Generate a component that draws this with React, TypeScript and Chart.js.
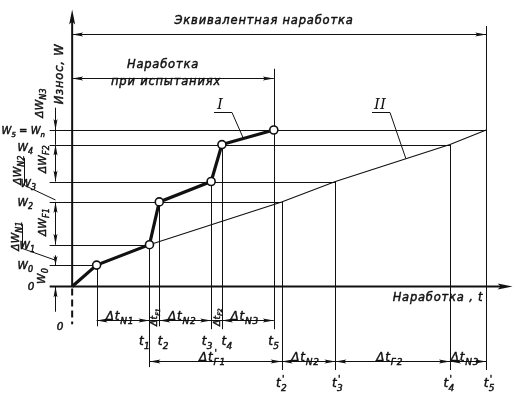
import React, { useEffect, useRef } from "react";
import { Chart, registerables } from "chart.js";

Chart.register(...registerables);

// ---- Data (1 unit = 10 px) ----
// Curve I: test run. Origin, W0 point, then t1..t5
const testTimes = [0, 2.5, 7.9, 8.9, 14.2, 15.3, 20.6];
const testWear = [0, 2.2, 4.3, 8.7, 10.8, 14.6, 16.1];
// Curve II: equivalent normal operation. t1, t'2..t'5
const equivTimes = [7.9, 21.4, 26.9, 38.6, 42.3];
const equivWear = [4.3, 8.7, 10.8, 14.6, 16.1];

const wearLabels = ["W_{0}", "W_{1}", "W_{2}", "W_{3}", "W_{4}", "W_{5} = W_{n}"];
const testTimeLabels = ["t_{1}", "t_{2}", "t_{3}", "t_{4}", "t_{5}"];
const equivTimeLabels = ["t^{'}_{2}", "t^{'}_{3}", "t^{'}_{4}", "t^{'}_{5}"];
const testIntervalLabels = ["Δt_{N1}", "Δt_{F1}", "Δt_{N2}", "Δt_{F2}", "Δt_{N3}"];
const equivIntervalLabels = ["Δt^{'}_{F1}", "Δt_{N2}", "Δt_{F2}", "Δt_{N3}"];
const wearIntervalLabels = ["W_{0}", "ΔW_{N1}", "ΔW_{F1}", "ΔW_{N2}", "ΔW_{F2}", "ΔW_{N3}"];
const axisTitleX = "Наработка , t";
const axisTitleY = "Износ, W";
const totalLabel = "Эквивалентная наработка";
const testLabel = ["Наработка", "при испытаниях"];
const curveLabels = ["I", "II"];

const INK = "#111";
const FONT = "'DejaVu Sans', sans-serif";

type Part = { t: string; k: number };
function parseRich(s: string): Part[] {
  const parts: Part[] = [];
  const re = /([_^])\{([^}]*)\}/g;
  let last = 0;
  let m: RegExpExecArray | null;
  while ((m = re.exec(s))) {
    if (m.index > last) parts.push({ t: s.slice(last, m.index), k: 0 });
    parts.push({ t: m[2], k: m[1] === "_" ? 1 : 2 });
    last = re.lastIndex;
  }
  if (last < s.length) parts.push({ t: s.slice(last), k: 0 });
  return parts;
}

function drawRich(
  ctx: CanvasRenderingContext2D,
  s: string,
  x: number,
  y: number,
  size: number,
  align: "left" | "center" | "right" = "left",
  rot = 0,
  spacing = 0.6
) {
  const parts = parseRich(s);
  const sub = Math.round(size * 0.72);
  const fontOf = (p: Part) => `italic ${p.k ? sub : size}px ${FONT}`;
  ctx.save();
  (ctx as any).letterSpacing = spacing + "px";
  const adv: number[] = [];
  let w = 0;
  parts.forEach((p, i) => {
    ctx.font = fontOf(p);
    const pw = ctx.measureText(p.t).width;
    const a = p.k === 2 && parts[i + 1] && parts[i + 1].k === 1 ? 0 : pw;
    adv.push(a);
    w += a;
  });
  ctx.translate(x, y);
  ctx.rotate(rot);
  ctx.textBaseline = "alphabetic";
  ctx.textAlign = "left";
  ctx.strokeStyle = INK;
  ctx.fillStyle = INK;
  ctx.lineWidth = 0.45;
  ctx.lineJoin = "round";
  let cx = align === "center" ? -w / 2 : align === "right" ? -w : 0;
  parts.forEach((p, i) => {
    ctx.font = fontOf(p);
    const dy = p.k === 1 ? size * 0.3 : p.k === 2 ? -size * 0.42 : 0;
    const dx = p.k === 2 ? 1 : 0;
    ctx.fillText(p.t, cx + dx, dy);
    ctx.strokeText(p.t, cx + dx, dy);
    cx += adv[i];
  });
  ctx.restore();
}

function interp(ts: number[], ws: number[], t: number) {
  for (let i = 0; i < ts.length - 1; i++) {
    if (t >= ts[i] && t <= ts[i + 1]) {
      return ws[i] + ((t - ts[i]) / (ts[i + 1] - ts[i])) * (ws[i + 1] - ws[i]);
    }
  }
  return ws[ws.length - 1];
}

const diagramPlugin = {
  id: "diagram",
  beforeDatasetsDraw(chart: any) {
    const ctx: CanvasRenderingContext2D = chart.ctx;
    const X = (t: number) => chart.scales.x.getPixelForValue(t);
    const Y = (w: number) => chart.scales.y.getPixelForValue(w);
    const line = (x1: number, y1: number, x2: number, y2: number, lw = 1, dash: number[] = []) => {
      ctx.save();
      ctx.strokeStyle = INK;
      ctx.lineWidth = lw;
      ctx.setLineDash(dash);
      ctx.beginPath();
      ctx.moveTo(x1, y1);
      ctx.lineTo(x2, y2);
      ctx.stroke();
      ctx.restore();
    };
    const arrow = (x: number, y: number, dx: number, dy: number, len = 10, half = 2) => {
      const nx = -dy, ny = dx;
      ctx.save();
      ctx.fillStyle = INK;
      ctx.beginPath();
      ctx.moveTo(x, y);
      ctx.lineTo(x - dx * len + nx * half, y - dy * len + ny * half);
      ctx.lineTo(x - dx * len * 0.8, y - dy * len * 0.8);
      ctx.lineTo(x - dx * len - nx * half, y - dy * len - ny * half);
      ctx.closePath();
      ctx.fill();
      ctx.restore();
    };
    const hx = (v: number) => Math.round(v) + 0.5;

    // wear level lines
    const leftT = -2.3;
    const ends = [testTimes[1], ...equivTimes];
    testWear.slice(1).forEach((w, i) => {
      line(X(leftT), hx(Y(w)), X(ends[i]), hx(Y(w)), 1);
    });

    // vertical extension lines (test times)
    const testBottoms = [-4.1, -8.3, -4.1, -4.4, -4.4, -4.4];
    testTimes.slice(1).forEach((t, i) => {
      const top = i === 5 ? 22.4 : testWear[i + 1];
      line(hx(X(t)), Y(top), hx(X(t)), Y(testBottoms[i]), 1);
    });
    // vertical extension lines (equivalent times)
    equivTimes.slice(1).forEach((t, i) => {
      const top = i === 3 ? 26.8 : equivWear[i + 1];
      line(hx(X(t)), Y(top), hx(X(t)), Y(-8.6), 1);
    });

    // axes
    line(X(leftT), Y(0), X(44.2), Y(0), 2);
    arrow(X(45.0), Y(0), 1, 0, 15, 3);
    line(X(0), Y(0), X(0), Y(27.6), 2);
    arrow(X(0), Y(28.5), 0, -1, 15, 3);
    line(X(0), Y(0) + 2, X(0), Y(-3.9), 2, [7, 4]);

    // top dimension lines
    const dimH = (w: number, a: number, b: number) => {
      line(X(a), hx(Y(w)), X(b), hx(Y(w)), 1);
      arrow(X(a), hx(Y(w)), -1, 0, 11, 2);
      arrow(X(b), hx(Y(w)), 1, 0, 11, 2);
    };
    dimH(26.0, 0, equivTimes[4]);
    dimH(21.5, 0, testTimes[6]);

    // row 1: test intervals
    const row1 = -3.5;
    const tb = testTimes.slice(1);
    line(X(tb[0]), hx(Y(row1)), X(tb[5]), hx(Y(row1)), 1);
    for (let i = 0; i < 5; i++) {
      const a = X(tb[i]), b = X(tb[i + 1]);
      if (b - a > 25) {
        arrow(a, hx(Y(row1)), -1, 0, 11, 2);
        arrow(b, hx(Y(row1)), 1, 0, 11, 2);
      }
    }
    // row 2: equivalent intervals
    const row2 = -7.7;
    line(X(equivTimes[0]), hx(Y(row2)), X(equivTimes[4]), hx(Y(row2)), 1);
    for (let i = 0; i < 4; i++) {
      arrow(X(equivTimes[i]), hx(Y(row2)), -1, 0, 11, 2);
      arrow(X(equivTimes[i + 1]), hx(Y(row2)), 1, 0, 11, 2);
    }

    // left vertical dimension line
    const dimX = hx(X(-1.8));
    line(dimX, Y(-2.6), dimX, Y(0), 1);
    arrow(dimX, Y(0), 0, -1, 11, 2);
    line(dimX, Y(testWear[1] + 1.0), dimX, Y(testWear[1]), 1);
    arrow(dimX, Y(testWear[1]), 0, 1, 9, 2);
    line(dimX, Y(testWear[2]), dimX, Y(testWear[3]), 1);
    arrow(dimX, Y(testWear[2]), 0, 1, 11, 2);
    arrow(dimX, Y(testWear[3]), 0, -1, 11, 2);
    line(dimX, Y(testWear[4]), dimX, Y(testWear[5]), 1);
    arrow(dimX, Y(testWear[4]), 0, 1, 11, 2);
    arrow(dimX, Y(testWear[5]), 0, -1, 11, 2);
    line(dimX, Y(testWear[6] + 2.3), dimX, Y(testWear[5]), 1);
    arrow(dimX, Y(testWear[6]), 0, 1, 11, 2);

    // leaders for small wear intervals
    line(24.5, Y(13.2), 24.5, Y(10.4), 1);
    line(24.5, Y(10.4), dimX, Y(8.9), 1);
    line(22.5, Y(6.4), 22.5, Y(3.9), 1);
    line(22.5, Y(3.9), dimX, Y(2.7), 1);

    // curve label leaders
    const lI = 17.5;
    const wI = interp(testTimes, testWear, lI);
    line(214, 112.5, 232, 112.5, 1);
    line(232, 112.5, X(lI), Y(wI), 1);
    const lII = 34.1;
    const wII = interp(equivTimes, equivWear, lII);
    line(372, 112.5, 390, 112.5, 1);
    line(390, 112.5, X(lII), Y(wII), 1);
  },
  afterDatasetsDraw(chart: any) {
    const ctx: CanvasRenderingContext2D = chart.ctx;
    const X = (t: number) => chart.scales.x.getPixelForValue(t);
    const Y = (w: number) => chart.scales.y.getPixelForValue(w);
    ctx.save();
    ctx.fillStyle = INK;

    // titles
    drawRich(ctx, totalLabel, 264, 24, 11.5, "center", 0, 0.8);
    drawRich(ctx, testLabel[0], 163, 68, 11.5, "center", 0, 0.8);
    drawRich(ctx, testLabel[1], 166, 85, 11.5, "center", 0, 0.8);
    drawRich(ctx, axisTitleX, 438, 301, 11.5, "center", 0, 0.8);
    drawRich(ctx, axisTitleY, 63, 74, 11.5, "center", -Math.PI / 2, 0.8);

    // wear level labels
    const wearRight = [33, 35, 33, 36, 33, 45];
    const wearDy = [4, 4, 4, 5, 6, 4];
    const wearSize = [10.5, 10.5, 10.5, 10.5, 10.5, 10];
    testWear.slice(1).forEach((w, i) => {
      drawRich(ctx, wearLabels[i], wearRight[i], Y(w) + wearDy[i], wearSize[i], "right", 0, 0);
    });
    drawRich(ctx, "0", 31, Y(0) + 4, 10.5, "center", 0, 0);
    drawRich(ctx, "0", 60, 330, 10.5, "center", 0, 0);

    // wear interval labels (rotated)
    const wearLabelPos: [number, number][] = [
      [45, 276],
      [19, 236],
      [46, 222],
      [21, 170],
      [46, 159],
      [43, 103],
    ];
    wearIntervalLabels.forEach((s, i) => {
      drawRich(ctx, s, wearLabelPos[i][0], wearLabelPos[i][1], 10.5, "center", -Math.PI / 2, 0.2);
    });

    // row 1 labels
    const tb = testTimes.slice(1);
    for (let i = 0; i < 5; i++) {
      const a = X(tb[i]), b = X(tb[i + 1]);
      if (b - a > 25) {
        drawRich(ctx, testIntervalLabels[i], (a + b) / 2 - 3, 320, 12, "center", 0, 0.8);
      } else {
        drawRich(ctx, testIntervalLabels[i], (a + b) / 2 + 3, 317, 9, "center", -Math.PI / 2, 0.2);
      }
    }
    const tLabDx = [-5, 4, -4, 5, 0];
    tb.slice(1).forEach((t, i) => {
      drawRich(ctx, testTimeLabels[i], X(t) + tLabDx[i], 345, 12, "center", 0, 0.3);
    });

    // row 2 labels
    for (let i = 0; i < 4; i++) {
      const a = X(equivTimes[i]), b = X(equivTimes[i + 1]);
      drawRich(ctx, equivIntervalLabels[i], (a + b) / 2 - 3, 361, 12, "center", 0, 0.8);
    }
    const eLabDx = [0, 2, -1, 3];
    equivTimes.slice(1).forEach((t, i) => {
      drawRich(ctx, equivTimeLabels[i], X(t) + eLabDx[i], 387, 12, "center", 0, 0.3);
    });

    // curve labels
    ctx.font = `italic 15px 'DejaVu Serif', serif`;
    ctx.textAlign = "center";
    ctx.textBaseline = "alphabetic";
    ctx.fillText(curveLabels[0], 220, 109);
    ctx.fillText(curveLabels[1], 380, 109);
    ctx.restore();
  },
};

export default function App() {
  const ref = useRef<HTMLCanvasElement | null>(null);
  useEffect(() => {
    if (!ref.current) return;
    const chart = new Chart(ref.current, {
      type: "scatter",
      data: {
        datasets: [
          {
            label: "II",
            data: equivTimes.map((t, i) => ({ x: t, y: equivWear[i] })),
            showLine: true,
            borderColor: INK,
            borderWidth: 1.1,
            pointRadius: 0,
            order: 2,
          },
          {
            label: "I",
            data: testTimes.map((t, i) => ({ x: t, y: testWear[i] })),
            showLine: true,
            borderColor: INK,
            borderWidth: 3.2,
            pointRadius: testTimes.map((_, i) => (i === 0 ? 0 : 4)),
            pointBackgroundColor: "#fff",
            pointBorderColor: INK,
            pointBorderWidth: 1.6,
            order: 1,
          },
        ],
      },
      options: {
        animation: false,
        responsive: false,
        devicePixelRatio: 1,
        layout: { padding: 0 },
        plugins: { legend: { display: false }, tooltip: { enabled: false }, title: { display: false } },
        events: [],
        scales: {
          x: { type: "linear", min: -6.8, max: 46.0, display: false },
          y: { type: "linear", min: -10.9, max: 28.9, display: false },
        },
      },
      plugins: [diagramPlugin],
    } as any);
    return () => chart.destroy();
  }, []);
  return (
    <div style={{ position: "absolute", left: 0, top: 0, width: 528, height: 398, background: "#fff" }}>
      <canvas ref={ref} width={528} height={398} style={{ display: "block" }} />
    </div>
  );
}
